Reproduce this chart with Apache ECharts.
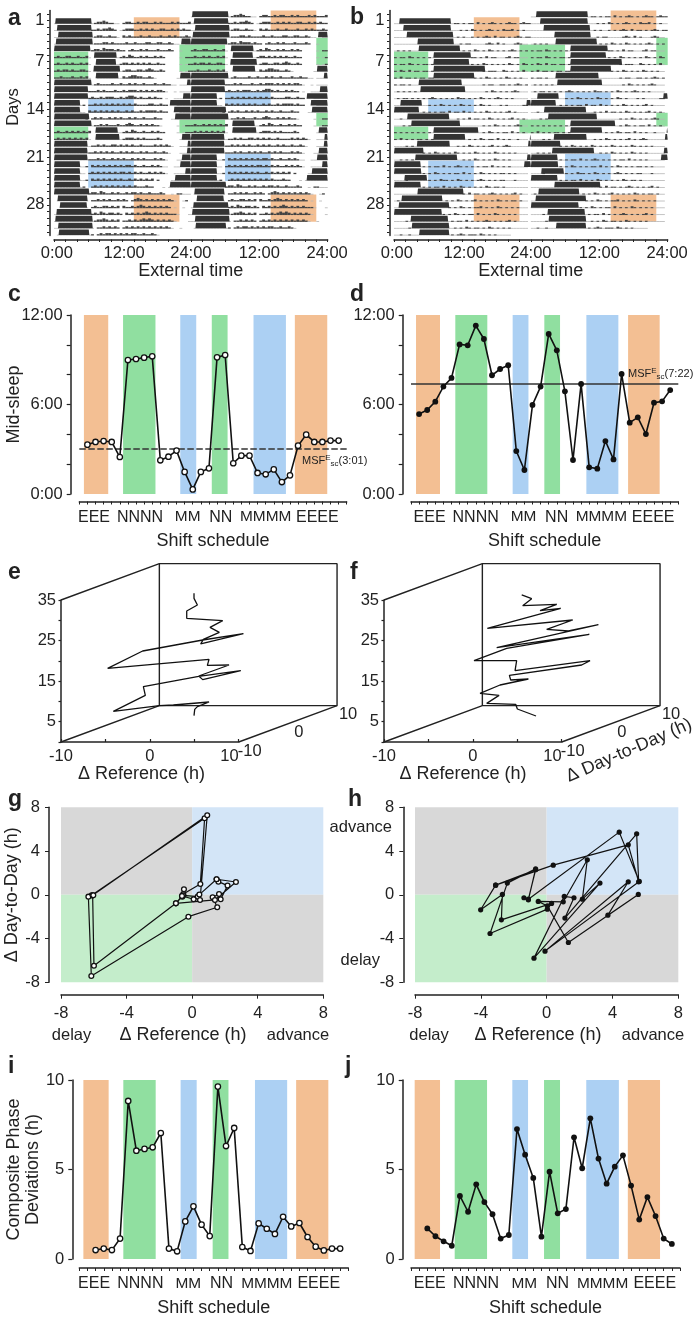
<!DOCTYPE html>
<html><head><meta charset="utf-8">
<style>html,body{margin:0;padding:0;background:#fff}#c{width:697px;height:1320px}</style>
<script src="https://cdn.jsdelivr.net/npm/echarts@6/dist/echarts.min.js"></script>
</head><body><div id="c"></div>
<script>
// ---------- data ----------
const timeTicks=[.5,12.3,24,36,47.9];
const timeLabels=['0:00','12:00','24:00','12:00','24:00'];
const dayTicks=[1,7,14,21,28];
// sleep episodes per day (hours of that day), day 1 first
const sleepA=[[[.2,6.6]],[[.5,6.6]],[[.7,6.8]],[[.3,6.8],[22.3,24]],[[0,6.4]],[[7,11]],[[7.3,10.9]],[[6.9,11.6]],[[7.3,11.3],[22.1,24]],[[0,6.6],[23.3,24]],[[0,6]],[[0,6],[22.6,24]],[[0,4.6],[20.3,24]],[[0,4.6],[21,24]],[[0,6.2],[21.2,24]],[[0,6.6]],[[7.25,11.2]],[[7.25,11.5],[22.4,24]],[[0,5.9],[23.4,24]],[[0,5.9],[23.3,24]],[[0,5.9],[22.4,24]],[[0,4.6],[22.1,24]],[[0,4.6],[23,24]],[[0,4.6],[21.2,24]],[[0,4.6],[20.3,24]],[[0,6.2]],[[.6,5.9]],[[1,5.8]],[[.4,6.6]],[[.2,6.8]],[[.7,6.8]],[[.8,6.2]]];
const sleepB=[[[.9,10]],[[1.6,10]],[[2.2,10.4]],[[4.1,10.5]],[[4.3,11.6]],[[6.9,13.5]],[[6.9,13.2]],[[6.9,16]],[[6.9,14.1]],[[4.3,11.9]],[[4.6,12.5]],[],[[1.1,4.9],[23.2,24]],[[0,4.4]],[[2.3,9.7]],[[3,11.6]],[[6.9,14.8]],[[6.9,12.5],[23.8,24]],[[4,9.8],[23.5,24]],[[0,5.2]],[[3.7,11.1],[23.3,24]],[[0,4.7],[22.8,24]],[[0,4.8]],[[1.8,5.8]],[[0,4.7]],[[4.1,12.2]],[[1.3,8.5]],[[.8,9.7]],[[0,8.4]],[[2.9,9.5]],[[3.1,9.7]],[[4.4,9.7]]];
// activity per half hour: '.' none, 0 baseline, 1-3 height
const actA=["00000000000000122321100.122112122112121112121112","0000000000000112122321.0122211212121122112121211","00000000000000122112110.212111211211121121211121","00000000000000111221211112112111221122112100..00","0000000000000122132221211.1211212111211121..0...","1211221121120.0000000001213211212112121.....0.11","1211212112120..000000001221212121211211.....0.01","1212212112210..000000000122112212321121.....0.01","1121112112120..000000000212332211210.......00000","0000000000000012111121121121211211121121100.0000","0000000000001112121112112122212121212210..0.0000","00000000000012112122211212332121121211.0..000000","00000000001.1121212121212121211112211211...00000","00000000000.2121212121211212112122221211....0000","000000000001.1212112121211212112111211...0000000","00000000000000112121112112321121212110.....0.011","1211212121212..000000000121321121121211....0.011","1212121212120..00000000012221212111121......0000","000000000000011212112212121211211112121210..0000","00000000000011212121211212121121211211210...0000","0000000000001112121121212112121211121210...00000","000000000001.212121212121221211211212100..000000","00000000000.1212121212122121212112121210..000000","000000000001.2121212121211212121212.1....0000000","00000000001..1212121212121212111211...0.00000000","000000000000122132112121121221211211121..0.11000",".00000000000.1121212112121.1232121212121210..01.","..0000000000.1211221212.21121232121212121.0..0..","000000000000012132122121.2121212321212121110...0","00000000000000122321212.1121212323212121210....0","00000000000000.11212121.121212121212121210..0...",".0000000000001.1212212121212211211210...."];
const actB=["00000000000000000000011010110201012101012110121100","00000000000000000000000101021010121010211201010010","00000000000000000000001010010101210201101012101100","00000000000000000000000101100000121020100012100","01010100000000000000000010102101021010101210101","10110210101010000000000000011010201100012011000","10110210101101000000000000010102101010102101021","10210201101101000000000000000001011100210101020","10201101011011000000000000001010210101021010100","10110100000000000000000000000001011001101012101","01010101000000000000000000000000102101010121000","01011010101012101010102110101021010121010100000","00000000000010102101010210101021010001010000011","00000000001010101102011020101010210101012010000","00100000000000000000001010201101021010101201010","00010100000000000000000000000001010210101012100","10101010101010000000000000000001021010110201010","10201010110101000000000000101021011020101001000","00001010000000000000001010210101012010121000000","00000000001010210101021010102101010210101010000","00101010000000000000000010102101010210101000000","00000000001010110201012101010101102010101000000","00000000001010210101011020101021010101101010000","00001000000010102110102101010121010101100010000","00000000001010110201010210101010210110100000000","00000000000000000000000010201101012101010120100","01000000000000000010102101012010101021010110100","00000000000000000001010210101120101021010101000","00000000000000000101021010110201010210101010000","00001000000000000000101102010101210101012010000","00000100000000000000010102101101021010101000000","00100100000000000000101210111021010100000"];
// shift blocks of the actograms: hours from/to, rows from/to, shift (0 E, 1 N, 2 M)
const actoShifts=[[14,22,1,3,0],[38,46,0,2,0],[0,6,6,9,1],[22,30,5,8,1],[46,48,4,7,1],[6,14,13,14,2],[30,38,12,13,2],[0,6,17,18,1],[22,30,16,17,1],[46,48,15,16,1],[6,14,22,25,2],[30,38,21,24,2],[14,22,27,30,0],[38,46,27,30,0]];
// shift schedule strips: from, to, shift
const stripsC=[[.57,3.57,0],[5.4,9.4,1],[12.46,14.43,2],[16.35,18.3,1],[21.5,25.5,2],[26.6,30.6,0]];
const stripsD=[[.62,3.58,0],[5.47,9.42,1],[12.55,14.5,2],[16.46,18.4,1],[21.65,25.6,2],[26.8,30.7,0]];
const stripsI=[[.5,3.6,0],[5.4,9.37,1],[12.43,14.4,2],[16.36,18.3,1],[21.55,25.5,2],[26.6,30.55,0]];
const stripsJ=[[.45,3.56,0],[5.36,9.33,1],[12.43,14.36,2],[16.32,18.28,1],[21.5,25.5,2],[26.6,30.55,0]];
const shiftLabels=['EEE','NNNN','MM','NN','MMMM','EEEE'];
const shiftPosLeft=[1.81,7.49,13.37,17.45,23.0,29.38];
const shiftPosRight=[2.3,7.98,13.9,17.98,23.5,29.9];
const midSleepDays=[1,2,3,4,5,6,7,8,9,10,11,12,13,14,15,16,17,18,19,20,21,22,23,24,25,26,27,28,29,30,31,32];
const midSleepC=[3.31,3.49,3.55,3.49,2.48,8.98,9.05,9.14,9.23,2.26,2.5,2.91,1.48,.31,1.48,1.72,9.16,9.32,2.06,2.57,2.57,1.41,1.32,1.65,.8,1.25,3.24,3.98,3.49,3.49,3.58,3.58];
const midSleepD=[5.36,5.63,6.19,7.2,7.78,10.03,9.97,11.29,10.39,7.96,8.38,8.63,2.88,1.61,5.97,7.2,10.73,9.63,6.88,2.28,7.38,1.79,1.7,3.55,2.32,8.05,4.78,5.14,4.02,6.12,6.21,6.97];
const msfC=3.02, msfD=7.37;
const deviationDays=[2,3,4,5,6,7,8,9,10,11,12,13,14,15,16,17,18,19,20,21,22,23,24,25,26,27,28,29,30,31,32];
const deviationI=[.5,.58,.5,1.14,8.83,6.05,6.15,6.24,7.04,.58,.43,2.1,2.94,1.92,1.28,9.63,6.31,7.32,.67,.45,1.99,1.69,1.4,2.36,1.82,2.01,1.23,.69,.48,.58,.58];
const deviationJ=[1.71,1.27,.99,.74,3.52,2.64,4.17,3.18,2.5,1.14,1.34,7.26,5.83,4.53,1.25,4.88,2.55,2.79,6.8,5.07,7.86,5.61,4.21,5.16,5.79,4.1,2.2,3.46,2.4,1.14,.84];
// 3-D traces as seen on the front plane of the box
const traceEx=[4.97,5.05,5.35,6.66,2.65,1.07,-4.11,-.51,-.73,5.5,10.23,5.95,5.5,8.91,6.47,6.66,-4.75,-.81,5.95,10.53,5.72,6.02,7.82,6.77,8.2,4.15,4.15,5.35,4.97,4.97];
const traceEz=[6.49,8.05,8.71,9.86,9.12,8.96,7.56,11.5,13.64,16.19,17.58,15.37,16.27,18.98,18.9,20.38,18.16,22.43,25.14,26.71,24.16,25.31,27.03,28.27,29.91,30.48,32.29,33.77,35.41,36.65];
const traceFx=[7.11,5.01,4.82,1.56,2.95,.81,3.06,6.25,4.26,4.11,12.25,13.19,4.75,4.93,.13,3.81,13.11,2.68,14.13,10.75,8.31,11.24,1.63,9.89,7.56,9.44,5.61,6.62,5.5];
const traceFz=[6.41,8.13,9.29,9.53,11.5,12,14.05,15.53,15.28,16.43,18.98,20.05,17.58,20.05,20.05,23.09,26.54,23.25,28.92,27.36,27.77,30.07,28.02,32.95,32.37,33.94,33.61,35.33,36.24];
const depthTicks=[-10,0,10];
// phase portraits
const refG=[-.5,-.6,-.54,.5,.76,-6.13,-6.33,-6.15,-.23,1.53,1.25,1.64,1.74,2.16,1.6,1.49,2.67,1.39,-.99,-.54,.34,.48,.92,-6.07,-6.03,-5.99,-.99,-.62,.09,.44,1.49];
const dayG=[.5,-.17,.08,.99,7,-.05,-.17,-7.42,-2,-1.14,-.23,.08,-.41,.84,1.2,1.42,1.17,-.47,-.78,-.05,-.17,-.47,7.27,-.05,-.05,-6.48,-.78,-.1,-.41,.02,1.42];
const refH=[-1.38,-1.11,-.67,-2.39,-3.44,.04,.3,-2.75,-2.69,-4.01,-3.1,-.67,-1.11,4.41,5.63,-.1,4.96,3.72,5.57,1.32,.04,-.51,1.01,2.47,2.17,3.24,-.77,1.07,1.66,1.11,5.47,5.59,4.96,.4,-3.1];
const dayH=[-.27,-.46,2.38,1.07,-3.54,-1.31,-.79,-2.29,.03,-1.37,.88,2.29,-.4,5.73,1.22,-5.15,1.19,-1.86,.03,-4.36,-1.01,-.61,-.64,3.2,-.4,1.07,-5.79,-.15,-.27,-2.13,5.58,1.19,4.57,2.71,.88];
const quadrants=[[-8,0,0,8,3],[0,8,0,8,4],[-8,0,-8,0,5],[0,8,-8,0,3]];

// ---------- styles ----------
const palette=['#f3bf93','#90dfa0','#acd0f3','#d8d8d8','#d3e5f7','#c4edcb'];
const FONT='"Liberation Sans",Arial,sans-serif', INK='#222';
const tickFont={fontFamily:FONT,fontSize:16.5,color:INK};
const line={show:true,onZero:false,lineStyle:{color:INK,width:1.5}};
const grids=[],xAxes=[],yAxes=[],series=[],graphics=[];
function text(t,x,y,size,opt={}){graphics.push({type:'text',x,y,z:100,rotation:opt.rot||0,silent:true,style:{text:t,fill:INK,align:opt.align||'center',verticalAlign:'middle',font:(opt.bold?'bold ':'')+size+'px '+FONT,rich:opt.rich}});}
function panel(g,x,y){grids.push(Object.assign({outerBoundsMode:'none',containLabel:false},g));const i=grids.length-1;
  xAxes.push(Object.assign({type:'value',gridIndex:i,splitLine:{show:false},axisLine:line},x));
  yAxes.push(Object.assign({type:'value',gridIndex:i,splitLine:{show:false},axisLine:line},y));return i;}
function bandItem(p,api){const a=api.coord([api.value(0),api.value(2)]),b=api.coord([api.value(1),api.value(3)]);
  return {type:'rect',shape:{x:a[0],y:Math.min(a[1],b[1]),width:b[0]-a[0],height:Math.abs(a[1]-b[1])},style:{fill:palette[api.value(4)]}};}
function bands(i,data){series.push({type:'custom',xAxisIndex:i,yAxisIndex:i,renderItem:bandItem,data,z:1,silent:true,clip:false,encode:{x:[0,1],y:[2,3]}});}
function actogram(left,sleep,act,hi){
  const i=panel({left,top:10.5,width:273.7,height:225},
   {min:0,max:48,interval:2,offset:4,axisTick:{length:2.5,lineStyle:{color:INK}},
    axisLabel:Object.assign({},tickFont,{margin:5,customValues:timeTicks,hideOverlap:false,formatter:v=>timeLabels[timeTicks.indexOf(v)]}),
    name:'External time',nameLocation:'middle',nameGap:23,nameTextStyle:{fontFamily:FONT,fontSize:18,color:INK}},
   {min:-.5,max:32.5,inverse:true,offset:4.5,axisTick:{length:2.5,customValues:Array.from({length:33},(_,k)=>k),lineStyle:{color:INK}},
    axisLabel:Object.assign({},tickFont,{margin:5,customValues:dayTicks,formatter:v=>String(v)})});
  bands(i,actoShifts.map(s=>[s[0],s[1],s[2]-.5,s[3]+.5,s[4]]));
  const bins=[],blocks=[];
  for(let row=0;row<33;row++){
    [[row,0],[row+1,24]].forEach(([day,off])=>{
      const s=act[day-1]; if(s) for(let k=0;k<48&&k<s.length;k++){const c=s[k]; if(c!=='.')bins.push([off+k/2,off+(k+1)/2,row,+c]);}
      const e=sleep[day-1]; if(e) e.forEach(b=>blocks.push([off+b[0],off+b[1],row]));
    });
  }
  series.push({type:'custom',xAxisIndex:i,yAxisIndex:i,z:2,silent:true,clip:false,data:bins,encode:{x:[0,1],y:2},
    renderItem(p,api){const a=api.coord([api.value(0),api.value(2)+.5]),b=api.coord([api.value(1),api.value(2)+.5]);const lv=api.value(3);
      const h=lv===0?.8:lv*hi+.2;
      return {type:'rect',shape:{x:a[0],y:a[1]-h,width:b[0]-a[0],height:h},style:{fill:lv===0?'#b5b5b5':'#444'}};}});
  series.push({type:'custom',xAxisIndex:i,yAxisIndex:i,z:3,silent:true,clip:false,data:blocks,encode:{x:[0,1],y:2},
    renderItem(p,api){const a=api.coord([api.value(0),api.value(2)+.44]),c=api.coord([api.value(1),api.value(2)+.44]);
      const d=api.coord([api.value(0),api.value(2)-.38]),b=api.coord([api.value(1),api.value(2)-.38]);
      return {type:'polygon',shape:{points:[a,[d[0]+.6,d[1]],[b[0]-.6,b[1]],c]},style:{fill:'#333'}};}});
}
function schedule(left,width,top,height,offX,offY,strips,labelPos,yMax,yInt,yLabels,yFmt,yName,yGap,yNoMove){
  const i=panel({left,top,width,height},
   {min:0,max:33,interval:1,offset:offX,axisTick:{length:3,lineStyle:{color:INK}},
    axisLabel:{fontFamily:FONT,fontSize:16,color:INK,margin:8,customValues:labelPos,formatter:v=>{const t=shiftLabels[labelPos.indexOf(v)];return t[0]==='M'?'{m|'+t+'}':t;},rich:{m:{fontFamily:FONT,fontSize:15.4,color:INK}}},
    name:'Shift schedule',nameLocation:'middle',nameGap:31,nameTextStyle:{fontFamily:FONT,fontSize:18,color:INK}},
   {min:0,max:yMax,interval:yInt,offset:offY,axisTick:{length:4,lineStyle:{color:INK,width:1.2}},
    axisLabel:Object.assign({},tickFont,{margin:8,customValues:yLabels,formatter:yFmt}),
    nameMoveOverlap:!yNoMove,
    name:yName||'',nameLocation:'middle',nameGap:yGap||0,nameTextStyle:{fontFamily:FONT,fontSize:18,color:INK,lineHeight:19}});
  bands(i,strips.map(s=>[s[0],s[1],0,yMax,s[2]]));
  return i;
}
function traceSeries(i,xs,ys,hollow,size,w){
  series.push({type:'line',xAxisIndex:i,yAxisIndex:i,z:5,silent:true,clip:false,data:xs.map((x,k)=>[x,ys[k]]),symbol:'circle',symbolSize:size,showSymbol:true,
    lineStyle:{color:'#111',width:w},itemStyle:hollow?{color:'#fff',borderColor:'#111',borderWidth:1.3}:{color:'#111',borderWidth:0}});
}
function box3d(left,xs,zs){
  panel({left,top:600,width:177.7,height:142},
    {min:-10,max:10,interval:5,axisTick:{length:3,inside:true,lineStyle:{color:INK,width:1.2}},axisLabel:Object.assign({},tickFont,{margin:6,customValues:[-10,0,10],alignMaxLabel:'right',formatter:v=>String(v)})},
    {min:0,max:35,interval:5,axisTick:{length:2.5,lineStyle:{color:INK,width:1.2}},axisLabel:Object.assign({},tickFont,{margin:5,customValues:[5,15,25,35],formatter:v=>String(v)})});
  // same scale as the front plane, extended so that the depth of the box fits
  const i=panel({left,top:742-50*142/35,width:177.7*2,height:50*142/35},
    {min:-10,max:30,show:false},{min:0,max:50,show:false});
  const proj=(x,d,z)=>[x+(d+10)/20*11.07,z+(d+10)/20*8.96];
  const edge=pts=>series.push({type:'line',xAxisIndex:i,yAxisIndex:i,z:3,silent:true,clip:false,data:pts,symbol:'none',lineStyle:{color:INK,width:1.4}});
  edge([proj(-10,-10,35),proj(-10,10,35),proj(10,10,35),proj(10,10,0),proj(-10,10,0),proj(-10,-10,0)]);
  edge([proj(-10,10,35),proj(-10,10,0)]);
  edge([proj(10,10,0),proj(10,-10,0)]);
  series.push({type:'line',xAxisIndex:i,yAxisIndex:i,z:4,silent:true,clip:false,data:xs.map((x,k)=>[x,zs[k]]),symbol:'none',lineStyle:{color:'#111',width:1.3}});
  series.push({type:'scatter',xAxisIndex:i,yAxisIndex:i,z:4,silent:true,clip:false,symbolSize:1,itemStyle:{opacity:0},data:depthTicks.map(d=>proj(10,d,0).concat(d)),
    label:{show:true,position:'inside',offset:[11,9],opacity:1,formatter:p=>String(p.value[2]),fontFamily:FONT,fontSize:16.5,color:INK}});
}
function portrait(left,width,offY,refs,days,hollow,size,name){
  const i=panel({left,top:807.3,width,height:175},
    {min:-8,max:8,interval:4,offset:12.4,axisTick:{length:4,lineStyle:{color:INK}},axisLabel:Object.assign({},tickFont,{margin:10})},
    {min:-8,max:8,interval:4,offset:offY,axisTick:{length:4,lineStyle:{color:INK}},axisLabel:Object.assign({},tickFont,{margin:9}),
     name:name||'',nameLocation:'middle',nameGap:28,nameTextStyle:{fontFamily:FONT,fontSize:18,color:INK}});
  bands(i,quadrants);
  traceSeries(i,refs,days,hollow,size,1.2);
}

// ---------- panels ----------
actogram(54,sleepA,actA,1.1);
actogram(394,sleepB,actB,.9);
const clock=v=>v+':00';
let c=schedule(79.3,267.4,315,179,7.5,8.6,stripsC,shiftPosLeft,12,2,[0,6,12],clock,'Mid-sleep',47,true);
series.push({type:'line',xAxisIndex:c,yAxisIndex:c,z:4,silent:true,clip:false,data:[[0,msfC],[33,msfC]],symbol:'none',lineStyle:{color:'#333',width:1.5,type:[6.5,2.5]}});
traceSeries(c,midSleepDays,midSleepC,true,5.4,1.6);
let d=schedule(411,267.3,315,179,7.5,8.3,stripsD,shiftPosRight,12,2,[0,6,12],clock);
series.push({type:'line',xAxisIndex:d,yAxisIndex:d,z:4,silent:true,clip:false,data:[[0,msfD],[33,msfD]],symbol:'none',lineStyle:{color:'#333',width:1.5}});
traceSeries(d,midSleepDays,midSleepD,false,5.8,1.6);
box3d(61,traceEx,traceEz);
box3d(384,traceFx,traceFz);
portrait(61,262.3,12,refG,dayG,true,4.8,'Δ Day-to-Day (h)');
portrait(415,263.3,11.7,refH,dayH,false,5.2);
let fmt=v=>String(v);
let ii=schedule(79.3,269,1080,179,9,7,stripsI,shiftPosLeft,10,5,[0,5,10],fmt,'Composite Phase\nDeviations (h)',29);
traceSeries(ii,deviationDays,deviationI,true,5.4,1.6);
let jj=schedule(411,269,1080,179,9,8.3,stripsJ,shiftPosRight,10,5,[0,5,10],fmt);
traceSeries(jj,deviationDays,deviationJ,false,5.8,1.6);

// ---------- free text ----------
[['a',8,19],['b',350,18],['c',8,295],['d',350,295],['e',8,573],['f',350,573],['g',8,800],['h',348,800],['i',8,1067],['j',345,1067]]
  .forEach(([t,x,y])=>text(t,x,y,23,{bold:true,align:'left'}));
text('Days',13,107,16.5,{rot:Math.PI/2});
text('Δ Reference (h)',141.5,774,18);
text('Δ Reference (h)',463,774,18);
text('Δ Day-to-Day (h)',629,750.5,18,{rot:.41});
text('delay',71.5,1035,16.5); text('Δ Reference (h)',183,1035,18); text('advance',298,1035,16.5);
text('delay',429,1035,16.5); text('Δ Reference (h)',538,1035,18); text('advance',653,1035,16.5);
text('advance',392,827.5,16.5,{align:'right'}); text('delay',380,960,16.5,{align:'right'});
const msfRich={a:{fontFamily:FONT,fontSize:11,fill:INK,lineHeight:14},sup:{fontFamily:FONT,fontSize:8,fill:INK,verticalAlign:'top',lineHeight:8},sub:{fontFamily:FONT,fontSize:8,fill:INK,verticalAlign:'bottom',lineHeight:8}};
text('{a|MSF}{sup|E}{sub|sc}{a|(3:01)}',302,461,11,{align:'left',rich:msfRich});
text('{a|MSF}{sup|E}{sub|sc}{a|(7:22)}',628,374,11,{align:'left',rich:msfRich});

const chart=echarts.init(document.getElementById('c'),null,{renderer:'canvas',width:697,height:1320});
chart.setOption({animation:false,backgroundColor:'#fff',tooltip:{show:false},grid:grids,xAxis:xAxes,yAxis:yAxes,series,graphic:{elements:graphics}});
</script></body></html>
